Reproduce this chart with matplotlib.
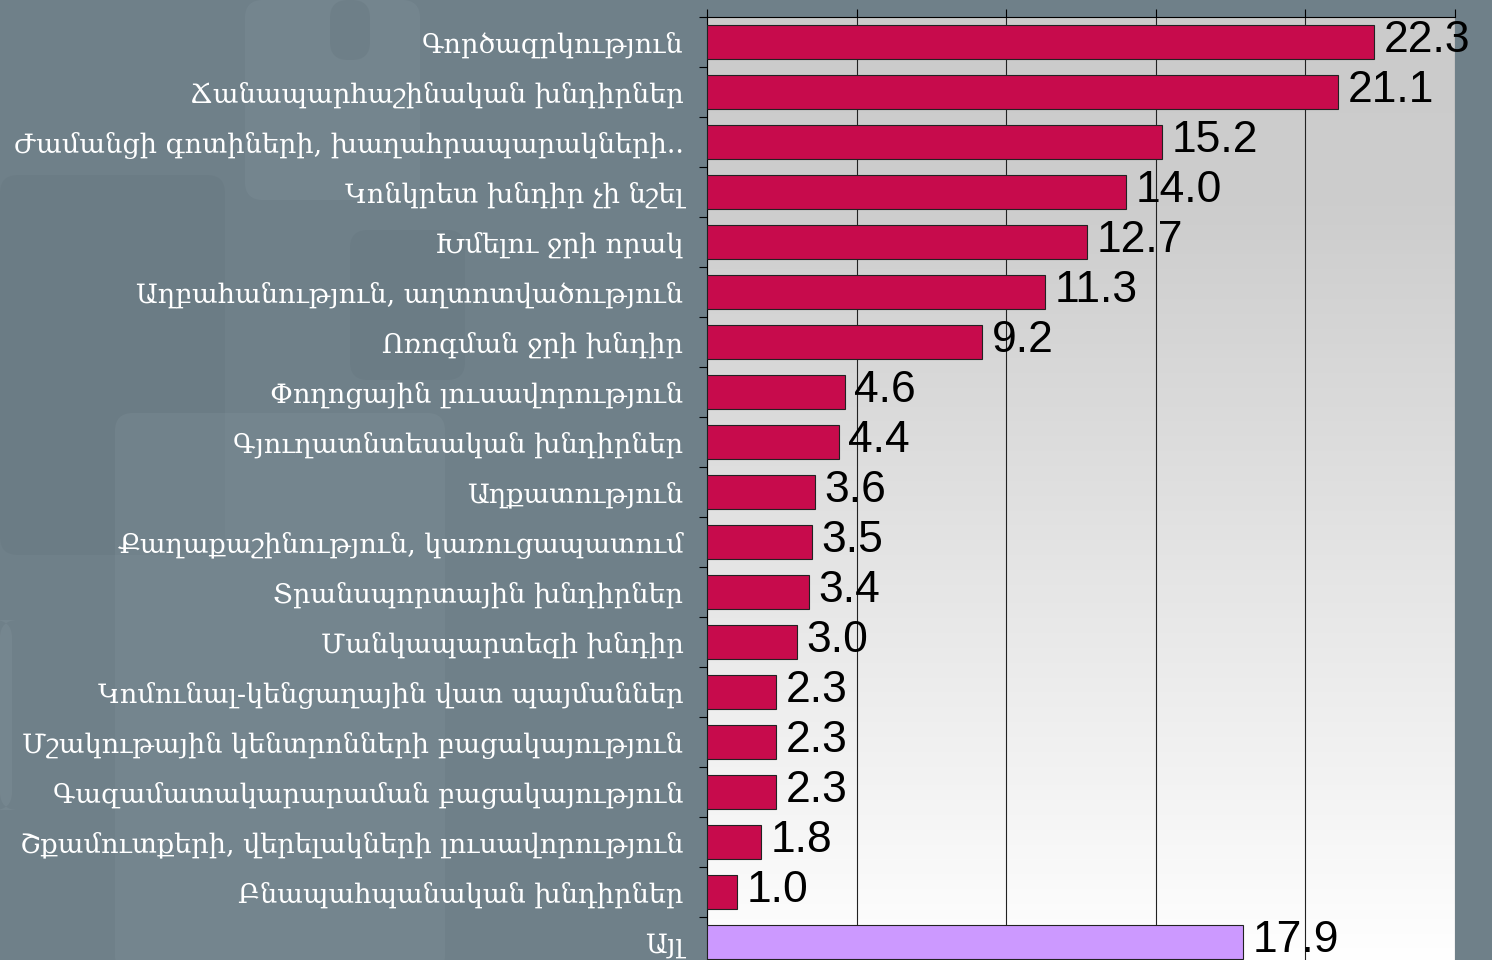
import numpy as np
import matplotlib
matplotlib.use('Agg')
import matplotlib.pyplot as plt
from matplotlib.patches import FancyBboxPatch
from matplotlib.colors import LinearSegmentedColormap

# categories (top to bottom) and values in %
labels = [
    'Գործազրկություն',
    'Ճանապարհաշինական խնդիրներ',
    'Ժամանցի գոտիների, խաղահրապարակների..',
    'Կոնկրետ խնդիր չի նշել',
    'Խմելու ջրի որակ',
    'Աղբահանություն, աղտոտվածություն',
    'Ոռոգման ջրի խնդիր',
    'Փողոցային լուսավորություն',
    'Գյուղատնտեսական խնդիրներ',
    'Աղքատություն',
    'Քաղաքաշինություն, կառուցապատում',
    'Տրանսպորտային խնդիրներ',
    'Մանկապարտեզի խնդիր',
    'Կոմունալ-կենցաղային վատ պայմաններ',
    'Մշակութային կենտրոնների բացակայություն',
    'Գազամատակարարաման բացակայություն',
    'Շքամուտքերի, վերելակների լուսավորություն',
    'Բնապահպանական խնդիրներ',
    'Այլ',
]
values = [22.3, 21.1, 15.2, 14.0, 12.7, 11.3, 9.2, 4.6, 4.4, 3.6, 3.5, 3.4, 3.0, 2.3, 2.3, 2.3, 1.8, 1.0, 17.9]
colors = ['#c70b4c'] * 18 + ['#cc99ff']

bg = '#6f8089'
W, H = 1492, 960
fig = plt.figure(figsize=(W / 100, H / 100), dpi=100, facecolor=bg)

# decorative background shapes, on an axes behind everything
bgax = fig.add_axes([0, 0, 1, 1], zorder=-5)
bgax.set_xlim(0, W)
bgax.set_ylim(H, 0)
bgax.axis('off')
shapes = [
    (245, 0, 175, 200, '#8596a0', 0.25),
    (330, 0, 40, 60, '#5f6f77', 0.25),
    (0, 175, 225, 380, '#5f6f77', 0.2),
    (350, 230, 115, 150, '#5f6f77', 0.22),
    (115, 413, 330, 560, '#8a9aa1', 0.22),
    (0, 620, 12, 190, '#8a9aa1', 0.25),
]
for x, y, w, h, c, a in shapes:
    bgax.add_patch(FancyBboxPatch((x, y), w, h, boxstyle='round,pad=0,rounding_size=18',
                                  facecolor=c, edgecolor='none', alpha=a))

ax = fig.add_axes([707 / W, 1 - 967 / H, 748 / W, 950 / H])
n = len(values)
y = np.arange(n)

# gradient background of the plot area
grad = LinearSegmentedColormap.from_list('g', [(0, '#cbcbcb'), (0.2, '#cdcdcd'), (1, '#ffffff')])
ax.imshow(np.linspace(0, 1, 256).reshape(-1, 1), cmap=grad, aspect='auto',
          extent=[0, 25, n - 0.5, -0.5], zorder=0)

ax.barh(y, values, height=0.68, color=colors, edgecolor='#222222', linewidth=0.8, zorder=3)
for yi, v in zip(y, values):
    ax.annotate(f'{v:.1f}', (v, yi), xytext=(7, 1), textcoords='offset points',
                va='center', ha='left', fontsize=32, family='Liberation Sans',
                color='black', zorder=4, annotation_clip=False)

ax.set_xlim(0, 25)
ax.set_ylim(n - 0.5, -0.5)

ax.set_xticks(np.arange(0, 26, 5))
ax.xaxis.tick_top()
ax.tick_params(axis='x', direction='out', length=6, width=0.8, labeltop=False, labelbottom=False)
ax.grid(axis='x', color='#222222', linewidth=0.8, zorder=1)

ax.set_yticks(y)
ax.set_yticklabels(labels, family=['DejaVu Serif', 'DejaVu Sans'], fontsize=19.5, color='white')
ax.tick_params(axis='y', which='major', length=0, pad=17)
ax.set_yticks(np.arange(-0.5, n, 1), minor=True)
ax.tick_params(axis='y', which='minor', direction='out', length=6, width=0.8)

for s in ['bottom', 'right']:
    ax.spines[s].set_visible(False)
ax.spines['top'].set_linewidth(0.8)
ax.spines['left'].set_linewidth(0.8)

plt.savefig('out.png', dpi=100, facecolor=bg)
